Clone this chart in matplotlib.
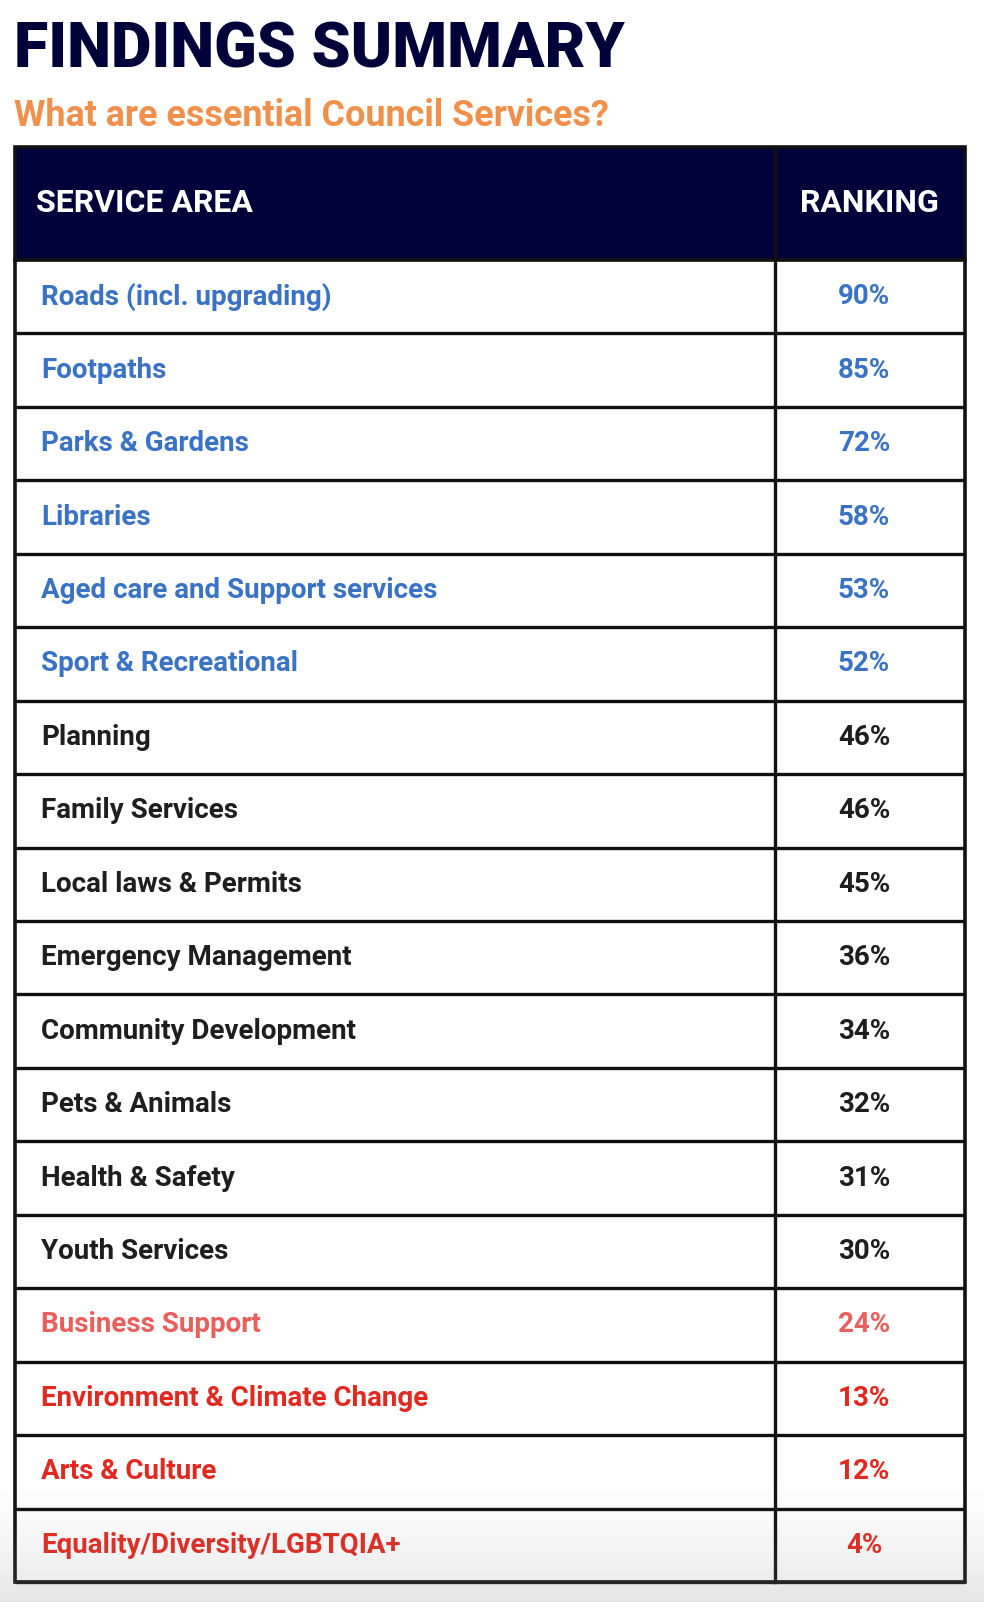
import numpy as np
import matplotlib.pyplot as plt
from matplotlib.patches import Rectangle

# 数据
services = ['Roads (incl. upgrading)', 'Footpaths', 'Parks & Gardens', 'Libraries',
            'Aged care and Support services', 'Sport & Recreational', 'Planning',
            'Family Services', 'Local laws & Permits', 'Emergency Management',
            'Community Development', 'Pets & Animals', 'Health & Safety',
            'Youth Services', 'Business Support', 'Environment & Climate Change',
            'Arts & Culture', 'Equality/Diversity/LGBTQIA+']
ranking = [90, 85, 72, 58, 53, 52, 46, 46, 45, 36, 34, 32, 31, 30, 24, 13, 12, 4]
groups = ['blue'] * 6 + ['black'] * 8 + ['salmon'] + ['red'] * 3

colors = {'blue': '#3a73c4', 'black': '#1e1e1e', 'salmon': '#e95f5c', 'red': '#e2291f'}
navy = '#02023a'

W, H = 984, 1602
fig = plt.figure(figsize=(W / 100, H / 100), dpi=100)
ax = fig.add_axes([0, 0, 1, 1])
ax.set_xlim(0, W)
ax.set_ylim(H, 0)
ax.axis('off')

# 标题
ax.text(14, 51, 'FINDINGS SUMMARY', fontsize=45, fontweight='heavy',
        family=['Roboto', 'DejaVu Sans'], color=navy, va='center', ha='left')
ax.text(14, 116, 'What are essential Council Services?', fontsize=25.8, fontweight='bold',
        family=['Roboto', 'DejaVu Sans'], color='#ef914c', va='center', ha='left')

# 表格布局
x0, x1, xc = 15, 965, 775
top, head_bot = 147, 260
row_h = (1582 - head_bot) / len(services)

ax.add_patch(Rectangle((x0, top), x1 - x0, head_bot - top, color=navy, zorder=1))
ax.text(36, 203, 'SERVICE AREA', fontsize=23, fontweight='bold', family='Roboto',
        color='white', va='center', ha='left', zorder=3)
ax.text(869, 203, 'RANKING', fontsize=23, fontweight='bold', family='Roboto',
        color='white', va='center', ha='center', zorder=3)

for i, (s, r, g) in enumerate(zip(services, ranking, groups)):
    yc = head_bot + (i + 0.5) * row_h
    ax.text(41, yc, s, fontsize=20, fontweight='bold', family='Roboto',
            color=colors[g], va='center', ha='left', zorder=3)
    ax.text(864, yc, f'{r}%', fontsize=20, fontweight='bold', family='Roboto',
            color=colors[g], va='center', ha='center', zorder=3)
    yb = head_bot + (i + 1) * row_h
    ax.plot([x0, x1], [yb, yb], color='#111111', lw=2.4, zorder=4,
            solid_capstyle='butt')

ax.plot([x0, x1], [head_bot, head_bot], color='#111111', lw=2.6, zorder=4)
ax.plot([xc, xc], [top, 1582], color='#111111', lw=2.4, zorder=4)
ax.add_patch(Rectangle((x0, top), x1 - x0, 1582 - top, fill=False,
                       ec='#111111', lw=2.6, zorder=4))

# 底部阴影渐变
grad = np.linspace(0, 1, 200) ** 1.6
rgba = np.zeros((200, 1, 4))
rgba[..., :3] = 0.55
rgba[:, 0, 3] = grad * 0.22
ax.imshow(rgba, extent=(0, W, H, 1470), aspect='auto', zorder=5)
ax.set_xlim(0, W)
ax.set_ylim(H, 0)

fig.savefig('out.png', dpi=100, facecolor='white')
